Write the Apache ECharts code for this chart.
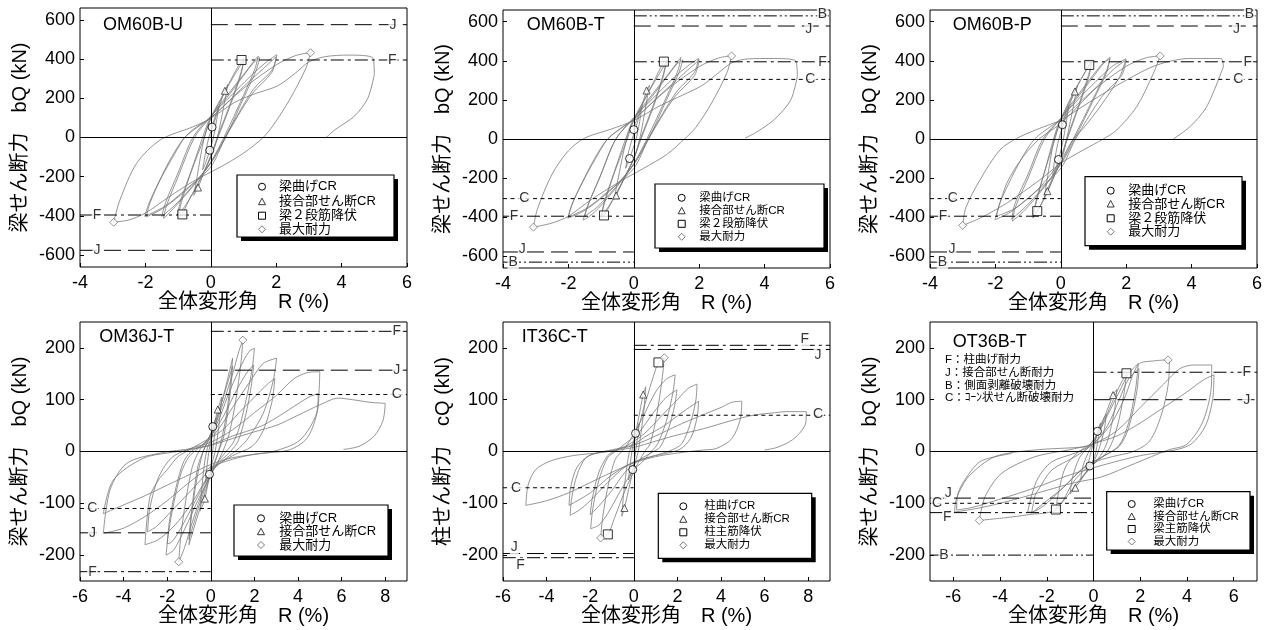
<!DOCTYPE html>
<html><head><meta charset="utf-8">
<script src="https://cdn.jsdelivr.net/npm/echarts@6/dist/echarts.min.js"></script>
<style>html,body{margin:0;padding:0;background:#fff}#c{width:1268px;height:630px}</style>
</head><body><div id="c"></div>
<script>
// ---------------- DATA ----------------
const titles = ['OM60B-U','OM60B-T','OM60B-P','OM36J-T','IT36C-T','OT36B-T'];
const yNameBeam = '梁せん断力　bQ (kN)';
const yNameCol = '柱せん断力　cQ (kN)';
const xName = '全体変形角　R (%)';
const xTicks60 = [-4,-2,0,2,4,6];
const yTicks60 = [-600,-400,-200,0,200,400,600];
const xTicks36 = [-6,-4,-2,0,2,4,6,8];
const xTicksOT = [-6,-4,-2,0,2,4,6];
const yTicks36 = [-200,-100,0,100,200];

const legendOM60B = ['梁曲げCR','接合部せん断CR','梁２段筋降伏','最大耐力'];
const legendOM36J = ['梁曲げCR','接合部せん断CR','最大耐力'];
const legendIT36C = ['柱曲げCR','接合部せん断CR','柱主筋降伏','最大耐力'];
const legendOT36B = ['梁曲げCR','接合部せん断CR','梁主筋降伏','最大耐力'];
const notesOT36B = ['F：柱曲げ耐力','J：接合部せん断耐力','B：側面剥離破壊耐力','C：ｺｰﾝ状せん断破壊耐力'];

// reference strengths [label, positive, negative]
const refsOM60BU = [['J',575,-575],['F',395,-395]];
const refsOM60BT = [['B',630,-630],['J',578,-578],['F',395,-395],['C',305,-305]];
const refsOM60BP = [['B',630,-630],['J',578,-578],['F',395,-395],['C',305,-305]];
const refsOM36JT = [['F',232,-232],['J',157,-157],['C',110,-110]];
const refsIT36CT = [['F',205,-205],['J',197,-197],['C',70,-70]];
const refsOT36BT = [['F',153,-118],['J',100,-90],['C',null,-100],['B',null,-200]];

// event markers [R, Q]
const crOM60BU = [[0.04,53],[-0.03,-65]];
const jcrOM60BU = [[0.43,238],[-0.39,-255]];
const yldOM60BU = [[0.94,395],[-0.87,-392]];
const maxOM60BU = [[3.05,432],[-2.97,-432]];
const crOM60BT = [[0.0,48],[-0.13,-100]];
const jcrOM60BT = [[0.39,248],[-0.54,-289]];
const yldOM60BT = [[0.92,396],[-0.91,-391]];
const maxOM60BT = [[2.99,425],[-3.07,-451]];
const crOM60BP = [[0.05,73],[-0.07,-105]];
const jcrOM60BP = [[0.43,243],[-0.41,-267]];
const yldOM60BP = [[0.87,379],[-0.72,-369]];
const maxOM60BP = [[3.04,425],[-3.0,-442]];
const crOM36JT = [[0.09,48],[-0.06,-44]];
const jcrOM36JT = [[0.32,81],[-0.27,-91]];
const maxOM36JT = [[1.47,215],[-1.47,-213]];
const crIT36CT = [[0.08,35],[-0.05,-35]];
const jcrIT36CT = [[0.43,110],[-0.43,-109]];
const yldIT36CT = [[1.13,172],[-1.19,-160]];
const maxIT36CT = [[1.4,181],[-1.52,-167]];
const crOT36BT = [[0.17,39],[-0.16,-28]];
const jcrOT36BT = [[0.84,109],[-0.78,-70]];
const yldOT36BT = [[1.41,151],[-1.61,-112]];
const maxOT36BT = [[3.19,177],[-4.89,-133]];

// hysteresis paths [R, Q] in loading order
const pathOM60BU = [[0,0],[0.04,53],[0.15,115],[0.25,160],
[0.18,90],[0.08,0],[-0.03,-65],[-0.15,-125],[-0.25,-165],
[-0.18,-95],[-0.06,0],[0.1,75],[0.3,180],[0.43,238],[0.52,270],
[0.42,180],[0.2,0],[0,-90],[-0.2,-175],[-0.39,-255],[-0.52,-295],
[-0.42,-200],[-0.2,0],[0,95],[0.3,190],[0.6,290],[0.94,392],[1.02,402],
[0.92,330],[0.6,175],[0.2,0],[0,-100],[-0.4,-240],[-0.7,-330],[-0.87,-390],[-1.0,-408],
[-0.9,-330],[-0.6,-175],[-0.2,0],[0,100],[0.4,225],[0.75,325],[1.02,398],
[0.92,320],[0.6,165],[0.22,0],[0,-100],[-0.4,-235],[-0.75,-340],[-1.02,-398],
[-0.92,-320],[-0.6,-170],[-0.25,0],[0,105],[0.5,215],[1.0,320],[1.3,385],[1.45,415],
[1.35,350],[1.0,215],[0.4,0],[0,-125],[-0.5,-240],[-1.0,-335],[-1.3,-390],[-1.45,-412],
[-1.35,-345],[-1.0,-200],[-0.5,0],[0,105],[0.5,205],[1.0,315],[1.3,380],[1.5,408],
[1.38,340],[1.0,200],[0.45,0],[0,-130],[-0.6,-255],[-1.1,-345],[-1.5,-402],
[-1.38,-330],[-1.0,-180],[-0.55,0],[0,110],[0.6,210],[1.2,310],[1.7,385],[2.02,422],
[1.88,345],[1.3,245],[0.5,21],[0,-130],[-0.6,-245],[-1.2,-330],[-1.6,-375],[-1.98,-405],
[-1.85,-330],[-1.55,-217],[-1.04,-64],[-0.8,0],[-0.43,55],[0,100],[1.0,259],[1.6,350],[2.0,412],
[1.86,330],[1.25,220],[0.45,0],[0,-149],[-0.8,-270],[-1.4,-350],[-2.02,-402],
[-1.9,-340],[-1.6,-230],[-1.2,-100],[-0.8,0],[-0.3,65],[0,100],[1.0,250],[2.0,370],[2.6,418],[3.05,432],
[2.9,350],[2.4,190],[1.9,60],[1.6,0],[1.0,-80],[0.3,-150],[-0.5,-220],[-1.3,-305],[-2.0,-385],[-2.5,-420],[-2.97,-432],
[-2.78,-319],[-2.27,-132],[-1.55,-13],[-0.54,55],[0,98],[0.72,178],[1.3,220],[2.04,263],[2.6,330],[3.0,385],[3.5,412],[4.2,420],[4.96,405],
[5.0,320],[4.8,200],[4.4,110],[3.8,40],[3.53,0]];

const pathOM60BT = [[0,0],[0.0,48],[0.12,110],[0.25,165],
[0.18,90],[0.07,0],[-0.13,-100],[-0.25,-150],
[-0.18,-80],[-0.05,0],[0.1,80],[0.39,248],[0.48,275],
[0.38,180],[0.18,0],[0,-100],[-0.3,-200],[-0.54,-289],[-0.6,-310],
[-0.5,-220],[-0.22,0],[0,95],[0.3,190],[0.6,290],[0.92,396],[1.0,405],
[0.9,330],[0.6,175],[0.2,0],[0,-100],[-0.4,-240],[-0.7,-330],[-0.91,-391],[-1.0,-400],
[-0.9,-330],[-0.6,-175],[-0.2,0],[0,100],[0.4,225],[0.75,325],[1.0,395],
[0.9,320],[0.6,165],[0.22,0],[0,-100],[-0.4,-235],[-0.75,-340],[-1.0,-398],
[-0.9,-320],[-0.6,-170],[-0.25,0],[0,105],[0.5,215],[1.0,320],[1.3,385],[1.44,418],
[1.35,350],[1.0,215],[0.4,0],[0,-125],[-0.5,-240],[-1.0,-340],[-1.35,-395],[-1.55,-415],
[-1.42,-345],[-1.05,-200],[-0.55,0],[0,105],[0.5,205],[1.0,315],[1.3,380],[1.5,405],
[1.38,340],[1.0,200],[0.45,0],[0,-130],[-0.6,-255],[-1.1,-345],[-1.5,-395],
[-1.38,-330],[-1.0,-180],[-0.55,0],[0,110],[0.6,210],[1.2,310],[1.7,380],[1.98,413],
[1.85,340],[1.3,240],[0.5,20],[0,-130],[-0.6,-245],[-1.2,-330],[-1.6,-375],[-2.02,-405],
[-1.88,-330],[-1.55,-215],[-1.05,-65],[-0.8,0],[-0.4,55],[0,100],[1.0,255],[1.6,345],[2.0,405],
[1.86,325],[1.25,215],[0.45,0],[0,-150],[-0.8,-270],[-1.4,-350],[-2.0,-400],
[-1.9,-340],[-1.6,-230],[-1.2,-100],[-0.8,0],[-0.3,65],[0,100],[1.0,250],[2.0,370],[2.6,415],[2.99,425],
[2.85,340],[2.4,190],[1.9,60],[1.55,0],[1.0,-80],[0.3,-150],[-0.5,-225],[-1.3,-310],[-2.0,-395],[-2.5,-430],[-3.07,-451],
[-2.95,-360],[-2.5,-180],[-2.0,-60],[-1.5,5],[-0.7,50],[0,95],[0.8,170],[1.5,225],[2.1,275],[2.6,340],[3.0,390],[3.5,410],[4.2,412],[4.95,400],
[5.0,320],[4.8,200],[4.3,100],[3.7,30],[3.4,5]];

const pathOM60BP = [[0,0],[0.05,73],[0.15,130],[0.25,175],
[0.18,100],[0.08,0],[-0.07,-105],[-0.2,-170],[-0.25,-185],
[-0.18,-100],[-0.06,0],[0.1,85],[0.3,190],[0.43,243],[0.5,270],
[0.4,180],[0.18,0],[0.05,-90],[-0.2,-190],[-0.41,-267],[-0.5,-300],
[-0.42,-210],[-0.2,0],[0,95],[0.3,200],[0.6,300],[0.87,379],[0.95,400],
[0.85,330],[0.55,175],[0.18,0],[0,-100],[-0.3,-230],[-0.55,-320],[-0.72,-369],[-0.85,-405],
[-0.76,-330],[-0.5,-170],[-0.18,0],[0,100],[0.35,225],[0.7,330],[0.95,398],
[0.86,320],[0.55,165],[0.2,0],[0,-100],[-0.35,-235],[-0.62,-340],[-0.85,-400],
[-0.76,-320],[-0.5,-170],[-0.22,0],[0,105],[0.5,220],[1.0,330],[1.3,390],[1.51,418],
[1.4,350],[1.0,210],[0.38,0],[0,-125],[-0.5,-245],[-1.0,-345],[-1.3,-395],[-1.48,-420],
[-1.38,-345],[-1.0,-200],[-0.5,0],[0,105],[0.5,210],[1.0,320],[1.3,385],[1.5,410],
[1.4,340],[1.0,200],[0.42,0],[0,-130],[-0.6,-260],[-1.1,-350],[-1.5,-410],
[-1.4,-330],[-1.0,-180],[-0.55,0],[0,105],[0.6,215],[1.2,315],[1.6,375],[1.99,410],
[1.8,318],[1.2,165],[0.69,55],[0.38,0],[0,-110],[-0.6,-240],[-1.2,-330],[-1.6,-380],[-2.01,-413],
[-1.65,-226],[-1.15,-90],[-0.64,3],[0,80],[1.0,250],[1.6,355],[2.0,405],
[1.86,325],[1.25,215],[0.45,0],[0,-150],[-0.8,-275],[-1.4,-355],[-1.97,-395],
[-1.88,-335],[-1.6,-230],[-1.2,-100],[-0.8,0],[-0.3,65],[0,100],[1.0,250],[2.0,372],[2.6,415],[3.04,425],
[2.83,335],[2.32,165],[1.71,46],[1.3,0],[0.69,-56],[0,-124],[-0.64,-209],[-1.65,-328],[-2.47,-405],[-3.0,-442],
[-2.9,-350],[-2.47,-209],[-1.86,-56],[-1.35,3],[-0.64,55],[0,97],[0.89,190],[2.0,301],[2.93,378],[3.95,412],[4.9,412],
[4.97,369],[4.46,165],[3.95,63],[3.44,0]];

const pathOM36JT = [[0,0],[0.09,48],[0.25,65],
[0.18,35],[0.05,-10],[-0.06,-44],[-0.25,-60],
[-0.18,-30],[-0.05,10],[0.15,50],[0.32,81],[0.5,105],
[0.4,60],[0.2,0],[0,-30],[-0.27,-91],[-0.5,-115],
[-0.4,-65],[-0.2,0],[0.1,35],[0.5,95],[0.8,145],[1.0,180],
[0.9,130],[0.65,55],[0.35,0],[0,-45],[-0.5,-110],[-1.0,-180],
[-0.9,-130],[-0.65,-55],[-0.35,0],[0,35],[0.5,95],[1.0,165],
[0.9,115],[0.6,30],[0.35,0],[0,-40],[-0.5,-100],[-1.0,-170],
[-0.9,-120],[-0.6,-30],[-0.35,0],[0,30],[0.5,85],[1.0,150],[1.3,195],[1.47,215],
[1.38,170],[1.15,100],[0.85,35],[0.55,0],[0.2,-30],[-0.3,-70],[-0.8,-130],[-1.2,-185],[-1.47,-213],
[-1.38,-165],[-1.15,-95],[-0.85,-30],[-0.55,0],[-0.2,20],[0.3,55],[0.9,120],[1.5,175],[1.8,195],[2.0,199],
[1.9,160],[1.65,106],[1.3,45],[1.0,15],[0.7,0],[0.3,-22],[0,-45],[-0.6,-95],[-1.2,-150],[-1.7,-190],[-2.05,-200],
[-1.95,-160],[-1.7,-100],[-1.35,-40],[-1.0,-10],[-0.6,5],[0,30],[0.6,70],[1.2,120],[1.7,155],[1.97,167],
[1.85,125],[1.6,70],[1.25,20],[0.9,0],[0.4,-20],[0,-40],[-0.7,-95],[-1.4,-150],[-1.8,-175],[-2.0,-178],
[-1.9,-135],[-1.6,-70],[-1.25,-20],[-0.9,0],[-0.3,15],[0.3,40],[1.0,85],[1.8,135],[2.4,170],[3.02,180],
[2.87,138],[2.41,74],[1.65,22],[1.2,3],[0.8,-10],[0,-40],[-0.8,-95],[-1.6,-140],[-2.4,-170],[-3.02,-180],
[-2.79,-87],[-2.4,-55],[-2.02,-36],[-1.5,-10],[-1.0,3],[-0.5,15],[0.5,40],[1.3,75],[2.0,105],[2.6,130],[2.94,141],
[2.8,95],[2.4,40],[1.9,10],[1.0,-8],[0,-35],[-0.9,-75],[-1.8,-115],[-2.5,-145],[-2.9,-155],
[-2.8,-110],[-2.4,-50],[-1.8,-12],[-1.0,5],[0,18],[1.0,42],[2.0,75],[3.0,108],[3.8,140],[4.4,152],[5.0,154],
[4.97,120],[4.86,74],[4.09,22],[2.87,0],[2.0,-5],[1.0,-15],[0,-30],[-1.0,-60],[-2.0,-95],[-3.0,-125],[-4.0,-148],[-4.93,-158],
[-4.62,-74],[-3.86,-23],[-2.33,-3],[-0.8,6],[0,13],[1.0,30],[2.26,48],[3.0,65],[3.78,86],[4.5,105],[4.93,112],
[4.85,70],[4.4,25],[3.6,3],[2.5,-3],[1.0,-12],[0,-25],[-1.0,-45],[-2.0,-65],[-3.0,-85],[-4.1,-105],[-4.93,-120],
[-4.47,-55],[-3.1,-13],[-2.0,-3],[-1.0,3],[0,12],[1.0,25],[2.0,38],[3.04,51],[4.0,70],[5.0,90],[5.85,103],[6.5,100],[7.3,95],[8.0,93],
[7.9,60],[7.5,30],[6.8,10],[6.08,4]];

const pathIT36CT = [[0,0],[0.08,35],[0.25,55],
[0.18,30],[0.05,-10],[-0.05,-35],[-0.25,-55],
[-0.18,-30],[-0.05,10],[0.2,60],[0.43,110],[0.55,125],
[0.45,75],[0.2,0],[0,-30],[-0.43,-109],[-0.55,-125],
[-0.45,-75],[-0.2,0],[0.1,30],[0.5,90],[0.9,145],[1.13,172],[1.4,181],
[1.3,140],[1.05,70],[0.75,15],[0.5,0],[0.1,-30],[-0.4,-75],[-0.9,-130],[-1.19,-160],[-1.52,-167],
[-1.42,-125],[-1.15,-60],[-0.85,-15],[-0.55,0],[-0.2,20],[0.4,65],[1.0,115],[1.5,140],[1.9,148],
[1.8,115],[1.5,60],[1.1,15],[0.8,0],[0.4,-20],[0,-35],[-0.6,-75],[-1.2,-120],[-1.6,-142],[-1.98,-149],
[-1.88,-110],[-1.6,-55],[-1.2,-12],[-0.85,0],[-0.4,15],[0.2,35],[0.9,75],[1.5,105],[1.98,119],
[1.88,90],[1.6,45],[1.2,8],[0.9,0],[0.3,-15],[-0.4,-40],[-1.0,-75],[-1.6,-105],[-2.0,-122],
[-1.9,-90],[-1.6,-40],[-1.2,-8],[-0.9,0],[-0.3,12],[0.5,35],[1.3,70],[2.0,100],[2.5,122],[2.9,130],
[2.85,100],[2.6,55],[2.2,15],[1.7,2],[1.2,-5],[0.4,-15],[-0.4,-30],[-1.2,-60],[-2.0,-95],[-2.5,-113],[-2.92,-123],
[-2.85,-90],[-2.6,-45],[-2.2,-12],[-1.6,-2],[-0.8,5],[0,14],[0.5,28],[1.4,50],[2.2,75],[2.97,97],
[2.9,65],[2.6,25],[2.1,4],[1.0,-8],[0,-20],[-1.0,-45],[-2.0,-80],[-2.97,-104],
[-2.9,-70],[-2.6,-30],[-2.0,-7],[-1.0,2],[0,12],[1.0,30],[2.0,50],[3.0,68],[4.0,85],[4.5,95],[4.95,97],
[4.9,65],[4.5,25],[3.8,6],[3.2,3],[2.0,-3],[1.0,-10],[0,-22],[-1.0,-40],[-2.0,-60],[-3.0,-80],[-4.0,-95],[-4.95,-104],
[-4.85,-65],[-4.5,-35],[-3.8,-18],[-2.8,-8],[-1.5,-2],[0,8],[1.0,20],[2.0,32],[3.2,44],[4.5,60],[5.48,70],[6.5,75],[7.0,77],[7.91,77],
[7.9,57],[7.6,35],[7.15,19],[6.5,7],[6.0,3]];

const pathOT36BT = [[0,0],[0.17,39],[0.3,55],
[0.2,25],[0.05,-10],[-0.16,-28],[-0.3,-40],
[-0.2,-18],[-0.05,8],[0.2,40],[0.45,65],[0.55,72],
[0.45,40],[0.2,0],[0,-20],[-0.3,-38],[-0.55,-55],
[-0.45,-28],[-0.2,0],[0.1,25],[0.5,70],[0.84,109],[1.0,120],
[0.9,80],[0.6,20],[0.3,-8],[-0.3,-40],[-0.78,-70],[-1.0,-82],
[-0.9,-50],[-0.6,-12],[-0.2,10],[0.3,45],[0.8,95],[1.1,125],[1.41,151],
[1.3,110],[1.0,45],[0.6,0],[0,-25],[-0.6,-55],[-1.1,-85],[-1.61,-112],
[-1.5,-80],[-1.2,-30],[-0.7,-3],[0,20],[0.6,70],[1.1,115],[1.5,150],[1.92,170],
[1.8,120],[1.5,55],[1.1,12],[0.4,-10],[-0.4,-30],[-1.2,-65],[-2.0,-100],[-2.5,-115],[-2.82,-117],
[-2.65,-85],[-2.36,-50],[-1.79,-20],[-0.79,-3],[0,15],[0.6,50],[1.1,100],[1.5,140],[1.95,160],
[1.85,115],[1.5,45],[1.1,10],[0.3,-12],[-0.5,-35],[-1.3,-70],[-2.0,-95],[-2.65,-119],
[-2.5,-85],[-2.36,-74],[-1.79,-36],[-0.79,-10],[0,15],[0.7,50],[1.3,100],[1.92,168],[2.6,175],[3.25,177],
[3.2,130],[2.9,70],[2.4,20],[1.7,0],[0.8,-10],[0,-22],[-0.8,-55],[-1.61,-112],[-2.8,-122],[-3.8,-128],[-4.89,-133],
[-4.64,-87],[-3.93,-42],[-2.5,-10],[-1.08,3],[0,15],[1.0,40],[2.0,85],[3.0,130],[3.7,160],[4.3,167],[5.06,167],
[5.05,130],[4.7,60],[4.0,14],[3.2,3],[1.78,-23],[0.35,-49],[-0.8,-60],[-2.0,-75],[-3.0,-88],[-4.0,-100],[-5.0,-110],[-5.95,-117],
[-5.86,-90],[-5.36,-49],[-4.22,-10],[-2.5,3],[-0.36,9],[0,15],[1.0,30],[2.0,55],[3.0,85],[4.0,115],[4.7,138],[5.16,148],
[5.1,100],[4.8,50],[4.2,15],[3.5,3],[2.0,-8],[0.5,-25],[-1.0,-45],[-2.5,-70],[-4.0,-92],[-5.2,-108],[-5.86,-113],
[-5.8,-80],[-5.36,-45],[-4.8,-18],[-3.5,-4]];

// ---------------- LAYOUT / STYLE ----------------
const FONT = '"Liberation Sans", "Noto Sans CJK JP", Arial, sans-serif';
const layout = [
 {grid:{left:80,top:8,width:327,height:259}, x:[-4,6], y:[-660,660], title:[103,25],
  legend:{x:237,y:175,w:157,h:62,mx:262,tx:279,rows:[186.7,201.7,215.7,229.3],fs:13},
  refLab:[[5.57,0,-3.48,0],[5.55,0,-3.48,0]]},
 {grid:{left:503,top:10,width:327,height:258}, x:[-4,6], y:[-660,660], title:[526.7,25],
  legend:{x:655,y:184,w:169,h:64,mx:681.7,tx:699.3,rows:[197.8,210.8,223.8,236.8],fs:11.5},
  refLab:[[5.77,-2,-3.69,0],[5.35,3,-3.41,-3],[5.77,0,-3.66,0],[5.4,0,-3.35,0]]},
 {grid:{left:930,top:10,width:327,height:258}, x:[-4,6], y:[-660,660], title:[952.7,25],
  legend:{x:1085,y:176.7,w:157,h:69,mx:1110.7,tx:1128.3,rows:[190.7,204,218.3,231.7],fs:13},
  refLab:[[5.77,-2,-3.62,0],[5.37,3,-3.33,-3],[5.72,0,-3.6,0],[5.43,0,-3.3,0]]},
 {grid:{left:80,top:322,width:327,height:259}, x:[-6,9], y:[-250,250], title:[99.3,336.7],
  legend:{x:234,y:505,w:154,h:51,mx:261,tx:279.3,rows:[518.3,531.7,545],fs:13},
  refLab:[[8.53,0,-5.43,0],[8.53,0,-5.43,0],[8.53,0,-5.43,0]]},
 {grid:{left:503,top:322,width:327,height:259}, x:[-6,9], y:[-250,250], title:[521.7,336.7],
  legend:{x:658.3,y:493.3,w:153.4,h:65,mx:683.3,tx:704.3,rows:[506.3,519.3,532.3,545.3],fs:11.5},
  refLab:[[7.84,-6,-5.2,7],[8.45,6,-5.48,-6],[8.45,-1,-5.4,0]]},
 {grid:{left:930,top:322,width:327,height:259}, x:[-7,7], y:[-250,250], title:[952.7,341.7],
  legend:{x:1106.7,y:491.7,w:143.3,h:58.3,mx:1131.7,tx:1153.3,rows:[504,516.5,529,541.5],fs:11.5},
  refLab:[[6.56,0,-6.26,5],[6.56,0,-6.22,-5],[null,0,-6.7,0],[null,0,-6.4,0]],
  notes:{x:945,rows:[360,373,385.5,398.3],fs:11.5}}
];

const panels = [
 {path:pathOM60BU, refs:refsOM60BU, marks:[crOM60BU,jcrOM60BU,yldOM60BU,maxOM60BU], legend:legendOM60B, yName:yNameBeam, xTicks:xTicks60, yTicks:yTicks60},
 {path:pathOM60BT, refs:refsOM60BT, marks:[crOM60BT,jcrOM60BT,yldOM60BT,maxOM60BT], legend:legendOM60B, yName:yNameBeam, xTicks:xTicks60, yTicks:yTicks60},
 {path:pathOM60BP, refs:refsOM60BP, marks:[crOM60BP,jcrOM60BP,yldOM60BP,maxOM60BP], legend:legendOM60B, yName:yNameBeam, xTicks:xTicks60, yTicks:yTicks60},
 {path:pathOM36JT, refs:refsOM36JT, marks:[crOM36JT,jcrOM36JT,null,maxOM36JT], legend:legendOM36J, yName:yNameBeam, xTicks:xTicks36, yTicks:yTicks36},
 {path:pathIT36CT, refs:refsIT36CT, marks:[crIT36CT,jcrIT36CT,yldIT36CT,maxIT36CT], legend:legendIT36C, yName:yNameCol, xTicks:xTicks36, yTicks:yTicks36},
 {path:pathOT36BT, refs:refsOT36BT, marks:[crOT36BT,jcrOT36BT,yldOT36BT,maxOT36BT], legend:legendOT36B, yName:yNameBeam, xTicks:xTicksOT, yTicks:yTicks36, notes:notesOT36B}
];

const dashes = {J:[17,7], F:[13,4,3,4], C:[4,3.5], B:[13,3,2,3,2,3]};
const markStyles = [
 {symbol:'circle', size:8, border:'#000', bw:1},
 {symbol:'triangle', size:7, border:'#222', bw:0.9},
 {symbol:'rect', size:9, border:'#000', bw:1},
 {symbol:'diamond', size:8, border:'#555', bw:0.8}
];
const legendKinds = [[0,1,2,3],[0,1,2,3],[0,1,2,3],[0,1,3],[0,1,2,3],[0,1,2,3]];

function splitPath(p){
  const segs=[]; let cur=[p[0]]; let dir=0;
  for(let i=1;i<p.length;i++){
    const d=Math.sign(p[i][0]-p[i-1][0]);
    if(dir!==0 && d!==0 && d!==dir){ segs.push(cur); cur=[p[i-1]]; }
    if(d!==0) dir=d;
    cur.push(p[i]);
  }
  segs.push(cur); return segs;
}

const grid=[], xAxis=[], yAxis=[], series=[], graphic=[];
panels.forEach((p,i)=>{
  const L=layout[i];
  grid.push(Object.assign({show:true, borderColor:'#000', borderWidth:1, backgroundColor:'transparent', containLabel:false}, L.grid));
  xAxis.push({type:'value', gridIndex:i, min:L.x[0], max:L.x[1],
    axisLine:{show:false,onZero:false},
    axisTick:{show:true, inside:true, length:4, lineStyle:{color:'#000',width:1}, customValues:p.xTicks},
    axisLabel:{customValues:p.xTicks, color:'#000', fontSize:18, fontFamily:FONT, margin:7},
    splitLine:{show:false},
    name:xName, nameLocation:'middle', nameGap:24, nameTextStyle:{color:'#000', fontSize:20, fontFamily:FONT}});
  yAxis.push({type:'value', gridIndex:i, min:L.y[0], max:L.y[1],
    axisLine:{show:false,onZero:false},
    axisTick:{show:true, inside:true, length:4, lineStyle:{color:'#000',width:1}, customValues:p.yTicks},
    axisLabel:{customValues:p.yTicks, color:'#000', fontSize:18, fontFamily:FONT, margin:5},
    splitLine:{show:false},
    name:p.yName, nameLocation:'middle', nameRotate:90, nameGap:50, nameTextStyle:{color:'#000', fontSize:20, fontFamily:FONT}});

  splitPath(p.path).forEach((seg,k)=>{
    const s={type:'line', xAxisIndex:i, yAxisIndex:i, data:seg, symbol:'none', smooth:0.3,
      lineStyle:{color:'#7a7a7a', width:0.8}, silent:true, z:2, animation:false};
    if(k===0){
      s.markLine={silent:true, symbol:['none','none'], label:{show:false}, animation:false,
        lineStyle:{color:'#000', type:'solid', width:1}, data:[{xAxis:0},{yAxis:0}]};
    }
    series.push(s);
  });

  p.refs.forEach((r,k)=>{
    const [name,pos,neg]=r; const lab=L.refLab[k];
    const ls={color:'#000', width:1, type:dashes[name]};
    const labData=[];
    if(pos!==null){
      series.push({type:'line', xAxisIndex:i, yAxisIndex:i, data:[[0,pos],[L.x[1],pos]], symbol:'none', lineStyle:ls, silent:true, z:3, animation:false});
      labData.push({value:[lab[0],pos], label:{offset:[0,lab[1]]}});
    }
    if(neg!==null){
      series.push({type:'line', xAxisIndex:i, yAxisIndex:i, data:[[L.x[0],neg],[0,neg]], symbol:'none', lineStyle:ls, silent:true, z:3, animation:false});
      labData.push({value:[lab[2],neg], label:{offset:[0,lab[3]]}});
    }
    series.push({type:'scatter', xAxisIndex:i, yAxisIndex:i, data:labData, symbolSize:1,
      itemStyle:{color:'rgba(0,0,0,0)'}, silent:true, z:6, animation:false,
      label:{show:true, position:'inside', formatter:name, color:'#000', fontSize:14, fontFamily:FONT,
        backgroundColor:'#fff', padding:[0,1]}});
  });

  p.marks.forEach((m,k)=>{
    if(!m) return;
    const st=markStyles[k];
    series.push({type:'scatter', xAxisIndex:i, yAxisIndex:i, data:m, symbol:st.symbol, symbolSize:st.size,
      itemStyle:{color:'#fff', borderColor:st.border, borderWidth:st.bw}, silent:true, z:10, animation:false});
  });

  graphic.push({type:'text', x:L.title[0], y:L.title[1], z:100,
    style:{text:titles[i], fill:'#000', font:'18px '+FONT, verticalAlign:'middle', align:'left'}});

  const lg=L.legend;
  graphic.push({type:'rect', z:100, shape:{x:lg.x+4,y:lg.y+4,width:lg.w,height:lg.h}, style:{fill:'#000'}});
  graphic.push({type:'rect', z:101, shape:{x:lg.x,y:lg.y,width:lg.w,height:lg.h}, style:{fill:'#fff', stroke:'#000', lineWidth:1.2}});
  p.legend.forEach((txt,k)=>{
    const cy=lg.rows[k], cx=lg.mx, kind=legendKinds[i][k];
    let el;
    if(kind===0) el={type:'circle', shape:{cx:cx,cy:cy,r:3.5}, style:{fill:'#fff',stroke:'#000',lineWidth:1}};
    else if(kind===1) el={type:'polygon', shape:{points:[[cx,cy-3.5],[cx+3.5,cy+3],[cx-3.5,cy+3]]}, style:{fill:'#fff',stroke:'#222',lineWidth:0.9}};
    else if(kind===2) el={type:'rect', shape:{x:cx-3.5,y:cy-3.5,width:7,height:7}, style:{fill:'#fff',stroke:'#000',lineWidth:1}};
    else el={type:'polygon', shape:{points:[[cx,cy-3.5],[cx+3.5,cy],[cx,cy+3.5],[cx-3.5,cy]]}, style:{fill:'#fff',stroke:'#555',lineWidth:0.8}};
    el.z=102; graphic.push(el);
    graphic.push({type:'text', x:lg.tx, y:cy, z:102,
      style:{text:txt, fill:'#000', font:lg.fs+'px '+FONT, verticalAlign:'middle', align:'left'}});
  });

  if(p.notes){
    p.notes.forEach((t,k)=>{
      graphic.push({type:'text', x:L.notes.x, y:L.notes.rows[k], z:100,
        style:{text:t, fill:'#000', font:L.notes.fs+'px '+FONT, verticalAlign:'middle', align:'left'}});
    });
  }
});

const chart = echarts.init(document.getElementById('c'), null, {renderer:'canvas', width:1268, height:630});
chart.setOption({animation:false, backgroundColor:'#fff', grid, xAxis, yAxis, series, graphic});
</script></body></html>
